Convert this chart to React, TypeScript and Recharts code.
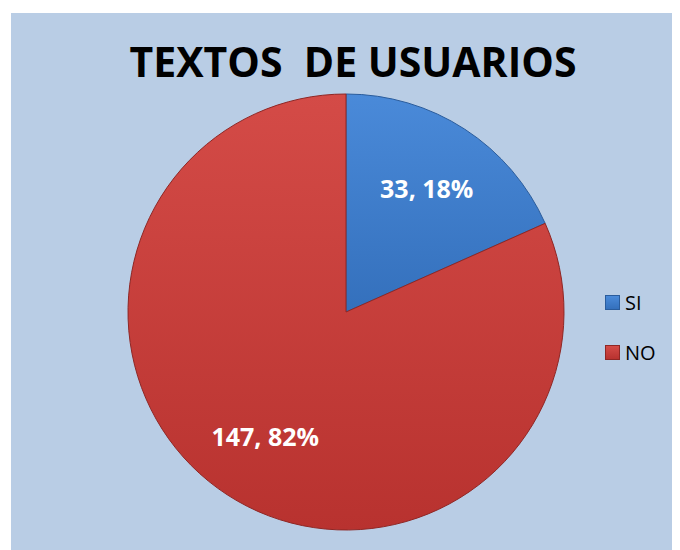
import { PieChart, Pie, Cell, Legend } from "recharts";

// Categories and values
const categories = ["SI", "NO"];
const counts = [33, 147];
const percents = ["18%", "82%"];

const colors = [
  { top: "#4a8ad9", bottom: "#3470bc", edge: "#2a5c9c" },
  { top: "#d44b47", bottom: "#b8322f", edge: "#8f2725" },
];

const data = categories.map((name, i) => ({ name, value: counts[i], pct: percents[i] }));

const RADIAN = Math.PI / 180;

// label inside each slice: "count, pct"
function renderLabel(props: any) {
  const { cx, cy, midAngle, outerRadius, index } = props;
  const r = outerRadius * 0.68;
  const x = cx + r * Math.cos(-midAngle * RADIAN);
  const y = cy + r * Math.sin(-midAngle * RADIAN);
  const d = data[index];
  return (
    <text
      x={x}
      y={y}
      fill="#ffffff"
      textAnchor="middle"
      dominantBaseline="central"
      fontFamily="Open Sans"
      fontWeight={700}
      fontSize={25}
    >
      {`${d.value}, ${d.pct}`}
    </text>
  );
}

function LegendContent() {
  return (
    <div style={{ fontFamily: "Open Sans", fontSize: 20, color: "#000" }}>
      {categories.map((c, i) => (
        <div key={c} style={{ display: "flex", alignItems: "center", height: 26, marginBottom: 24 }}>
          <span
            style={{
              display: "inline-block",
              width: 13,
              height: 13,
              marginRight: 5,
              background: `linear-gradient(${colors[i].top}, ${colors[i].bottom})`,
              border: `1px solid ${colors[i].edge}`,
            }}
          />
          <span>{c}</span>
        </div>
      ))}
    </div>
  );
}

export default function App() {
  return (
    <div
      style={{
        position: "relative",
        marginLeft: 3,
        marginTop: 5,
        width: 669,
        height: 537,
        background: "#b9cde5",
      }}
    >
      <div
        style={{
          position: "absolute",
          top: 20,
          left: 0,
          width: 684,
          textAlign: "center",
          fontFamily: "Open Sans",
          fontWeight: 700,
          fontSize: 41,
          whiteSpace: "pre",
          color: "#000",
          zIndex: 1,
        }}
      >
        {"TEXTOS  DE USUARIOS"}
      </div>
      <PieChart width={669} height={537}>
        <defs>
          {colors.map((c, i) => (
            <linearGradient key={i} id={`grad${i}`} x1="0" y1="0" x2="0" y2="1">
              <stop offset="0%" stopColor={c.top} />
              <stop offset="100%" stopColor={c.bottom} />
            </linearGradient>
          ))}
        </defs>
        <Pie
          data={data}
          dataKey="value"
          nameKey="name"
          cx={330}
          cy={294}
          outerRadius={218}
          startAngle={90}
          endAngle={-270}
          label={renderLabel}
          labelLine={false}
          isAnimationActive={false}
        >
          {data.map((d, i) => (
            <Cell key={d.name} fill={`url(#grad${i})`} stroke={colors[i].edge} strokeWidth={1} />
          ))}
        </Pie>
        <Legend
          layout="vertical"
          align="right"
          verticalAlign="top"
          content={<LegendContent />}
          wrapperStyle={{ left: 594, top: 276, width: 70 }}
        />
      </PieChart>
    </div>
  );
}
